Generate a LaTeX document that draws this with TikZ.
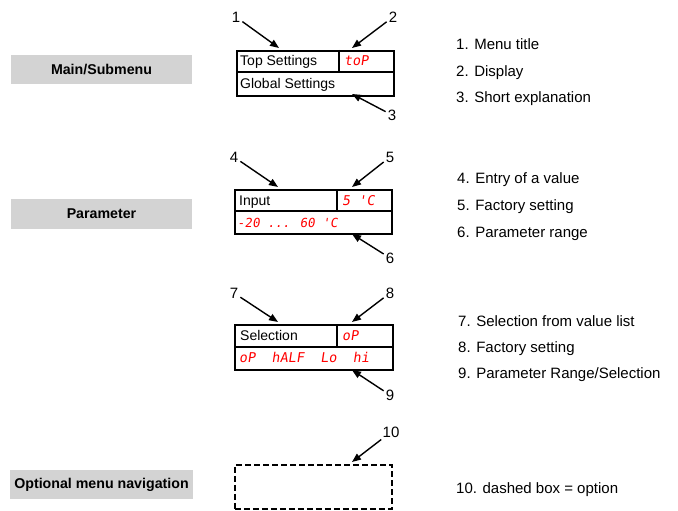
\documentclass[tikz,border=0pt]{standalone}
\usepackage{fontspec}
\setmainfont{Liberation Sans}
\newfontfamily\segfont{DejaVu Sans Mono}[FakeSlant=0.15]
\usetikzlibrary{arrows.meta}
\definecolor{boxgray}{RGB}{211,211,211}
\definecolor{segred}{RGB}{255,0,0}
\begin{document}
\begin{tikzpicture}[x=1pt,y=-1pt,
  graybox/.style={fill=boxgray,draw=none,minimum width=181pt,minimum height=29pt,inner sep=0pt,font=\bfseries\fontsize{14.2}{17}\selectfont},
  dispbox/.style={draw=black,line width=1.6pt,inner sep=0pt,anchor=north west},
  optbox/.style={draw=black,line width=1.6pt,dash pattern=on 6pt off 3pt,inner sep=0pt,anchor=north west},
  divline/.style={line width=1.6pt},
  boxtxt/.style={anchor=base west,inner sep=0pt,font=\fontsize{14}{17}\selectfont},
  segtxt/.style={anchor=base west,inner sep=0pt,text=segred,font=\segfont\fontsize{13.5}{16}\selectfont},
  segsmall/.style={segtxt,font=\segfont\fontsize{12.5}{15}\selectfont},
  numlbl/.style={inner sep=2pt,font=\fontsize{15}{18}\selectfont},
  desc/.style={anchor=base west,inner sep=0pt,font=\fontsize{15}{18}\selectfont},
  arr/.style={-{Triangle[length=9pt,width=7pt]},line width=1.4pt}]
\useasboundingbox (0,0) rectangle (678,511);

% gray category boxes
\node[graybox] (g1) at (101.5,69.5) {Main/Submenu};
\node[graybox,minimum height=30pt] (g2) at (101.5,214) {Parameter};
\node[graybox,minimum width=183pt] (g3) at (101.5,484.5) {Optional menu navigation};

% box 1
\node[dispbox,minimum width=157pt,minimum height=45pt] (b1) at (236,50) {};
\coordinate (b1ml) at (236,72);
\coordinate (b1mr) at (393,72);
\coordinate (b1dt) at (339,50);
\coordinate (b1db) at (339,72);
\draw[divline] (b1ml) -- (b1mr);
\draw[divline] (b1dt) -- (b1db);
\node[boxtxt] (x1) at (240,66) {Top Settings};
\node[segtxt] (s1) at (344,66) {toP};
\node[boxtxt] (x2) at (240,88.5) {Global Settings};

% box 2
\node[dispbox,minimum width=157pt,minimum height=44pt] (b2) at (234,189) {};
\coordinate (b2ml) at (234,211);
\coordinate (b2mr) at (391,211);
\coordinate (b2dt) at (337,189);
\coordinate (b2db) at (337,211);
\draw[divline] (b2ml) -- (b2mr);
\draw[divline] (b2dt) -- (b2db);
\node[boxtxt] (x3) at (239,205) {Input};
\node[segtxt] (s2) at (342,205) {5 'C};
\node[segsmall] (s3) at (237,227) {-20 ... 60 'C};

% box 3
\node[dispbox,minimum width=158pt,minimum height=45pt] (b3) at (234,324) {};
\coordinate (b3ml) at (234,347);
\coordinate (b3mr) at (392,347);
\coordinate (b3dt) at (337,324);
\coordinate (b3db) at (337,347);
\draw[divline] (b3ml) -- (b3mr);
\draw[divline] (b3dt) -- (b3db);
\node[boxtxt] (x4) at (240,340.5) {Selection};
\node[segtxt] (s4) at (342,340.5) {oP};
\node[segtxt] (s5) at (239,362.5) {oP\ \ hALF\ \ Lo\ \ hi};

% box 4 (dashed)
\node[optbox,minimum width=157pt,minimum height=44pt] (b4) at (234,464) {};

% number labels
\node[numlbl] (l1) at (236,17) {1};
\node[numlbl] (l2) at (393,17) {2};
\node[numlbl] (l3) at (392,115) {3};
\node[numlbl] (l4) at (234,157) {4};
\node[numlbl] (l5) at (390,157) {5};
\node[numlbl] (l6) at (390,258) {6};
\node[numlbl] (l7) at (234,293) {7};
\node[numlbl] (l8) at (390,293) {8};
\node[numlbl] (l9) at (390,395) {9};
\node[numlbl] (l10) at (391,432) {10};

% arrow targets
\coordinate (t1) at (279,48);
\coordinate (t2) at (352,48);
\coordinate (t3) at (352,94);
\coordinate (t4) at (278,187);
\coordinate (t5) at (352,187);
\coordinate (t6) at (352,234);
\coordinate (t7) at (278,322);
\coordinate (t8) at (352,322);
\coordinate (t9) at (352,370);
\coordinate (t10) at (352,462);

\draw[arr] (l1) -- (t1);
\draw[arr] (l2) -- (t2);
\draw[arr] (l3) -- (t3);
\draw[arr] (l4) -- (t4);
\draw[arr] (l5) -- (t5);
\draw[arr] (l6) -- (t6);
\draw[arr] (l7) -- (t7);
\draw[arr] (l8) -- (t8);
\draw[arr] (l9) -- (t9);
\draw[arr] (l10) -- (t10);

% descriptions
\node[desc] (d1) at (456,49.5) {1. Menu title};
\node[desc] (d2) at (456,76.5) {2. Display};
\node[desc] (d3) at (456,102.5) {3. Short explanation};
\node[desc] (d4) at (457,183.5) {4. Entry of a value};
\node[desc] (d5) at (457,210.5) {5. Factory setting};
\node[desc] (d6) at (457,237.5) {6. Parameter range};
\node[desc] (d7) at (458,326.5) {7. Selection from value list};
\node[desc] (d8) at (458,352.5) {8. Factory setting};
\node[desc] (d9) at (458,378.5) {9. Parameter Range/Selection};
\node[desc] (d10) at (456,493.5) {10. dashed box = option};
\end{tikzpicture}
\end{document}
